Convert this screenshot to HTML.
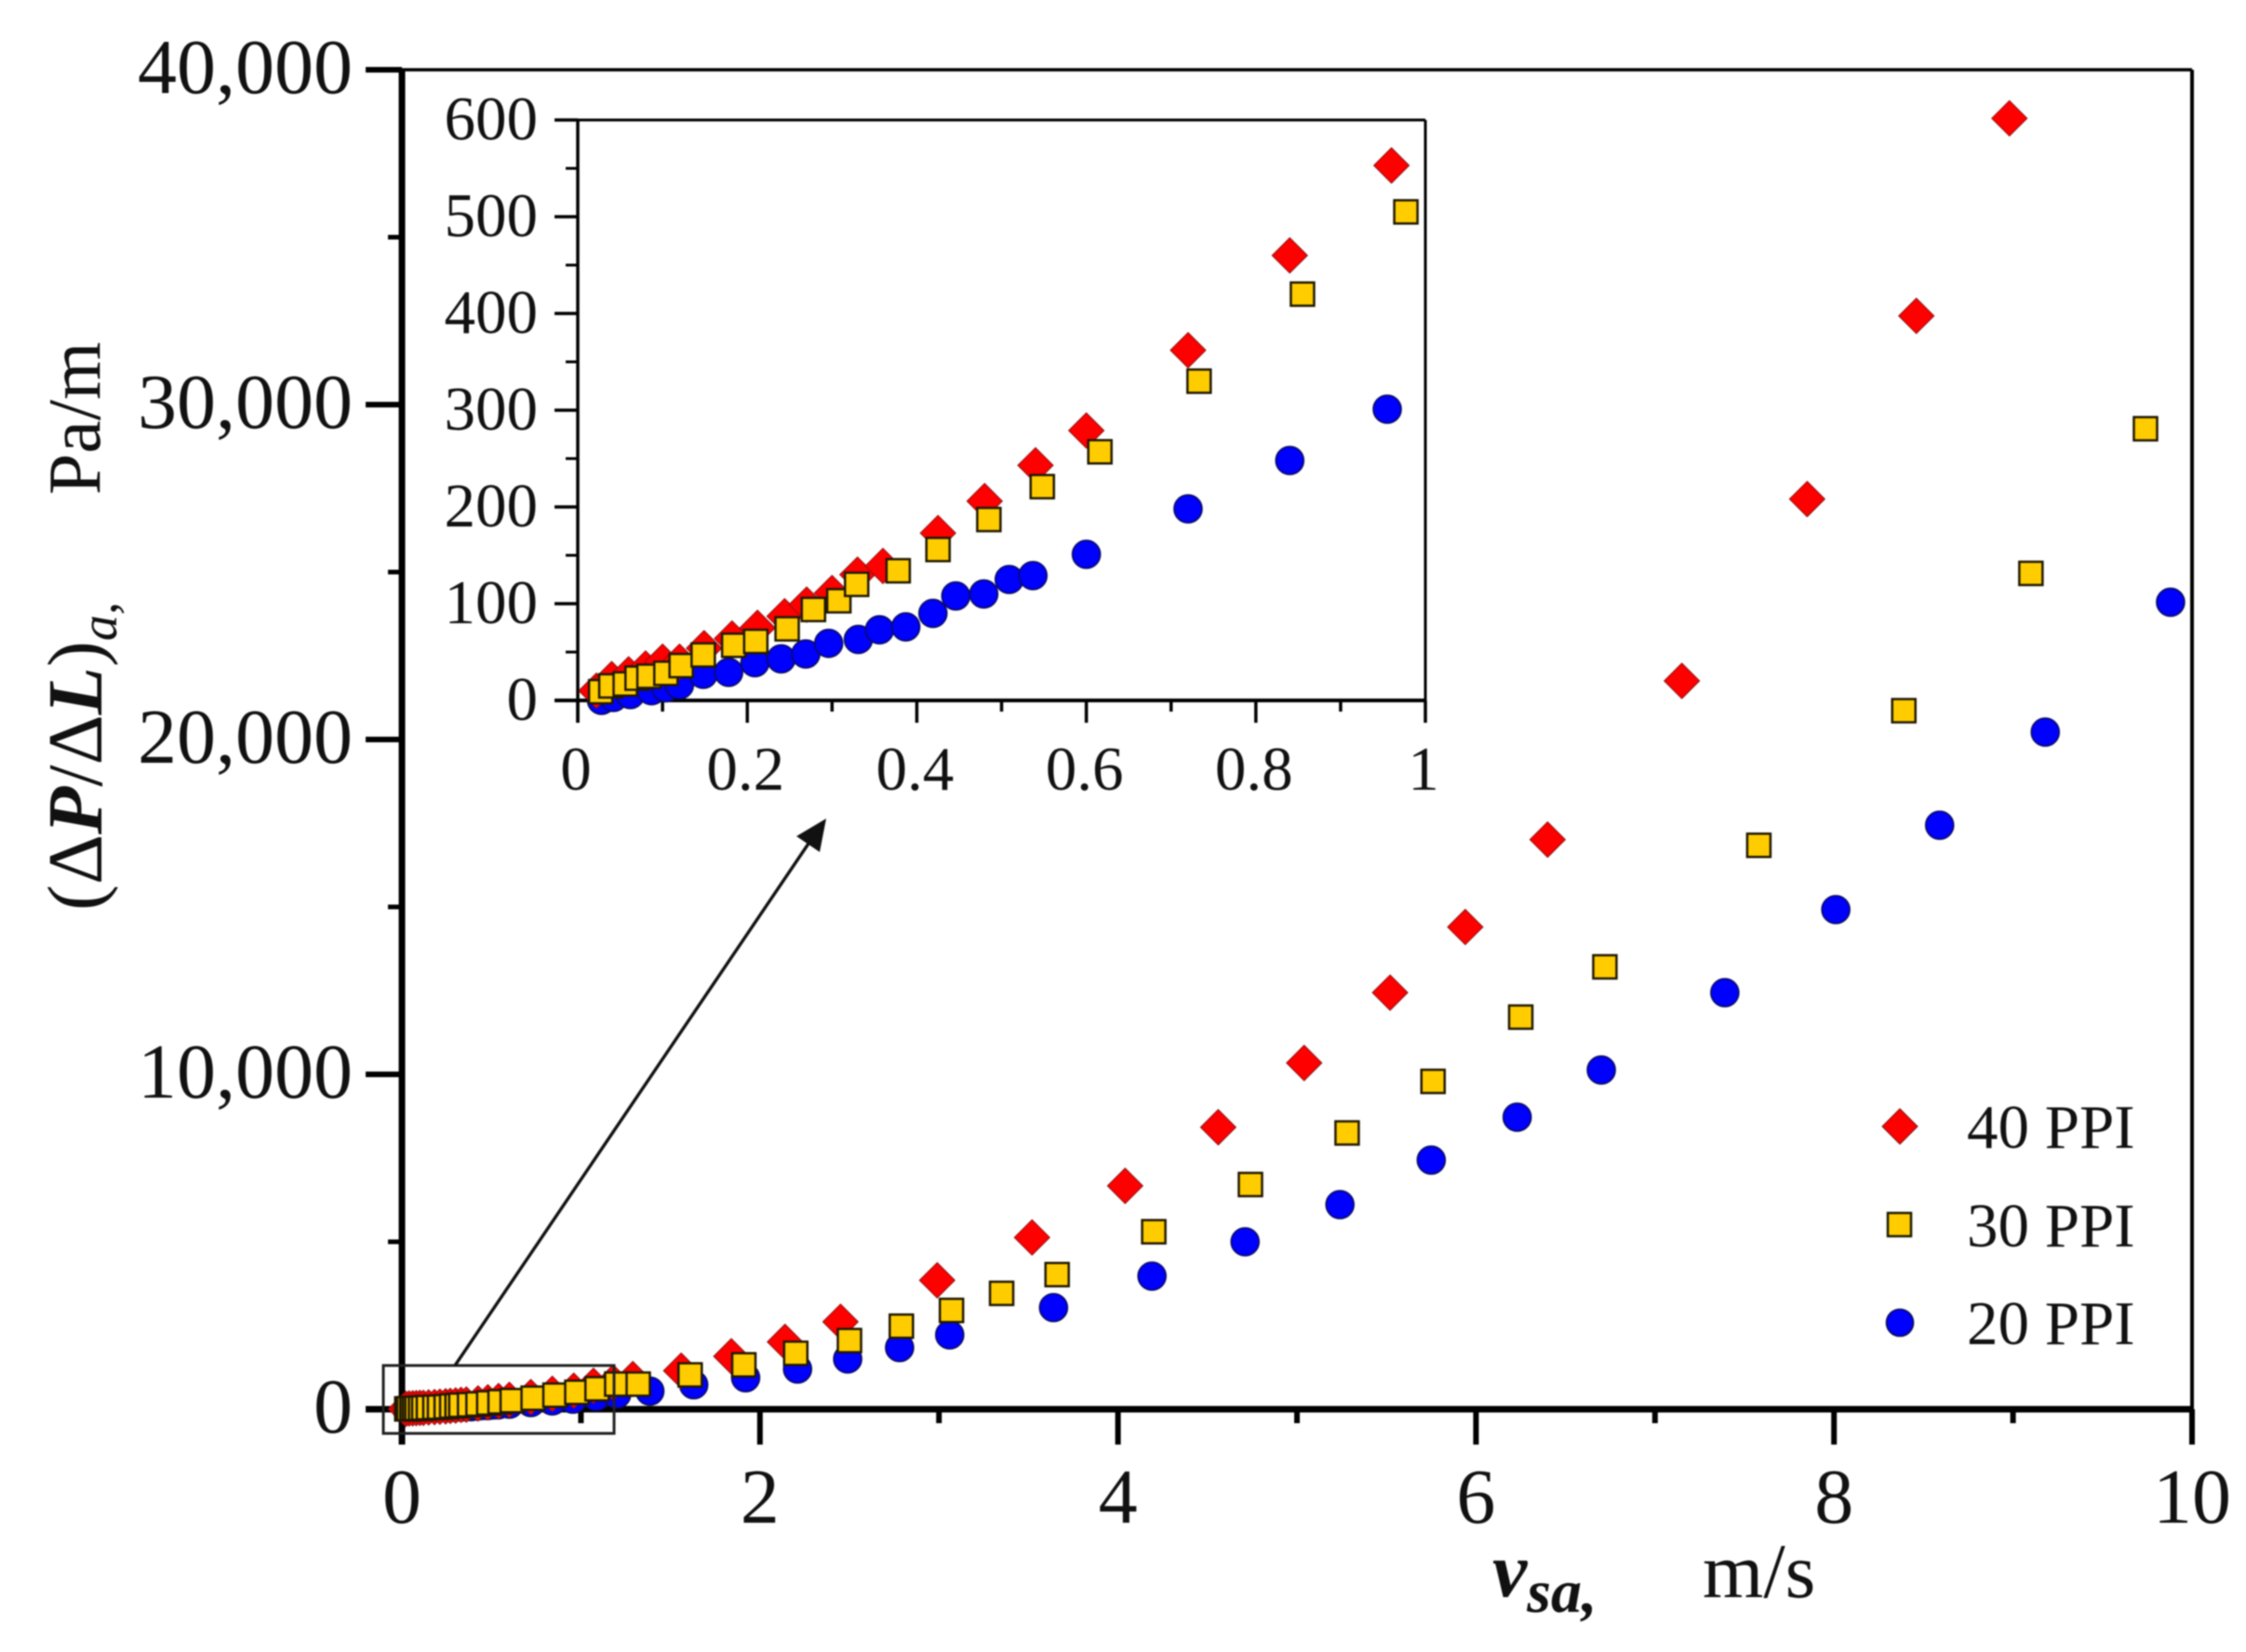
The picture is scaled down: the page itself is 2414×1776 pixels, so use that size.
<!DOCTYPE html>
<html lang="en">
<head>
<meta charset="utf-8">
<title>Pressure gradient vs superficial air velocity</title>
<style>
html,body{margin:0;padding:0;background:#fff;width:2414px;height:1776px;overflow:hidden}
svg{display:block;filter:blur(.85px)}
text{font-family:"Liberation Serif","Times New Roman",serif;fill:#111}
</style>
</head>
<body>
<svg id="chart" xmlns="http://www.w3.org/2000/svg" width="2414" height="1776" viewBox="0 0 2414 1776">
  <rect x="0" y="0" width="2414" height="1776" fill="#fff"/>
  <g id="main-axes"></g>
  <g id="main-marks"></g>
  <g id="inset-axes"></g>
  <g id="inset-marks"></g>

  <rect x="412" y="1468" width="248" height="73" fill="none" stroke="#222" stroke-width="3"/>
  <line x1="489" y1="1468" x2="875" y2="898" stroke="#111" stroke-width="3.4"/>
  <polygon points="888,880 881,916 856,899" fill="#111"/>

  <text x="1604" y="1716" font-size="84"><tspan font-weight="bold" font-style="italic">v</tspan><tspan font-weight="bold" font-style="italic" font-size="66" dy="17">sa,</tspan></text>
  <text x="1830" y="1717" font-size="84">m/s</text>
  <text transform="translate(109,979) rotate(-90)" font-size="84">(Δ<tspan font-weight="bold" font-style="italic">P</tspan>/Δ<tspan font-weight="bold" font-style="italic">L</tspan>)<tspan font-style="italic" font-size="56" dy="16">a,</tspan></text>
  <text transform="translate(107,532) rotate(-90)" font-size="80">Pa/m</text>

  <g id="legend">
    <polygon points="2042,1192 2061,1211 2042,1230 2023,1211" fill="#f00" stroke="#7a1010" stroke-width="1"/>
    <text x="2114" y="1234" font-size="67">40 PPI</text>
    <rect x="2029" y="1304" width="25" height="25" fill="#ffcc00" stroke="#1a1a00" stroke-width="2.5"/>
    <text x="2114" y="1340" font-size="67">30 PPI</text>
    <circle cx="2042" cy="1422" r="14.5" fill="#0000ff" stroke="#0a0a50" stroke-width="1.6"/>
    <text x="2114" y="1445" font-size="67">20 PPI</text>
  </g>
</svg>
<script>
// Superficial velocity (m/s) and pressure gradient (Pa/m)
const velocity40 = [0.022,0.04,0.06,0.08,0.10,0.12,0.149,0.182,0.212,0.244,0.27,0.30,0.33,0.36,0.425,0.48,0.54,0.60,0.72,0.84,0.96,1.07,1.18,1.29,1.56,1.84,2.14,2.45,2.99,3.52,4.04,4.56,5.04,5.52,5.94,6.40,7.15,7.85,8.46,8.98];
const gradient40 = [10,22,27,33,40,40,54,64,75,87,99,111,130,139,173,206,243,279,362,460,553,700,800,900,1150,1580,2010,2610,3850,5130,6670,8420,10340,12440,14400,17010,21750,27180,32650,38550];
const velocity30 = [0.027,0.039,0.056,0.07,0.084,0.104,0.122,0.148,0.184,0.21,0.247,0.278,0.308,0.329,0.378,0.425,0.485,0.548,0.616,0.733,0.855,0.977,1.09,1.20,1.32,1.61,1.91,2.20,2.50,2.79,3.07,3.35,3.66,4.20,4.74,5.28,5.76,6.25,6.72,7.58,8.39,9.10,9.74];
const gradient30 = [9,15,17,23,25,28,36,47,57,61,74,94,103,120,134,156,187,221,257,330,420,505,610,750,750,1025,1325,1670,2050,2480,2950,3460,4020,5300,6710,8250,9790,11710,13210,16840,20860,24960,29280];
const velocity20 = [0.028,0.042,0.062,0.087,0.104,0.12,0.148,0.178,0.209,0.24,0.269,0.296,0.331,0.356,0.387,0.419,0.446,0.479,0.509,0.537,0.60,0.72,0.84,0.955,1.085,1.20,1.385,1.63,1.92,2.21,2.49,2.78,3.06,3.64,4.19,4.71,5.24,5.75,6.23,6.70,7.39,8.01,8.59,9.18,9.88];
const gradient20 = [0,3,6,10,13,16,27,29,39,43,48,59,63,73,76,90,108,110,125,129,151,198,248,301,380,450,540,730,940,1200,1500,1840,2220,3035,3975,5000,6110,7440,8720,10130,12440,14920,17440,20220,24100];

const mainXTickValues = [0,2,4,6,8,10];
const mainXTickLabels = ['0','2','4','6','8','10'];
const mainXMinorValues = [1,3,5,7,9];
const mainYTickValues = [0,10000,20000,30000,40000];
const mainYTickLabels = ['0','10,000','20,000','30,000','40,000'];
const mainYMinorValues = [5000,15000,25000,35000];

const insetXTickValues = [0,0.2,0.4,0.6,0.8,1];
const insetXTickLabels = ['0','0.2','0.4','0.6','0.8','1'];
const insetXMinorValues = [0.1,0.3,0.5,0.7,0.9];
const insetYTickValues = [0,100,200,300,400,500,600];
const insetYTickLabels = ['0','100','200','300','400','500','600'];
const insetYMinorValues = [50,150,250,350,450,550];

const SVGNS = 'http://www.w3.org/2000/svg';

// Axis functions
function mainX(v){ return 432 + v * 192.4; }
function mainY(v){ return 1515 - v * 0.036; }
function insetX(v){ return 621 + v * 911; }
function insetY(v){ return 753 - v * 1.04; }

function makeLine(parent, x1, y1, x2, y2, width, name){
  const el = document.createElementNS(SVGNS, 'line');
  el.setAttribute('x1', x1);
  el.setAttribute('y1', y1);
  el.setAttribute('x2', x2);
  el.setAttribute('y2', y2);
  el.setAttribute('stroke', '#000');
  el.setAttribute('stroke-width', width);
  
  
  parent.appendChild(el);
}

function makeLabel(parent, x, y, text, size, anchor, name){
  const el = document.createElementNS(SVGNS, 'text');
  el.setAttribute('x', x);
  el.setAttribute('y', y);
  el.setAttribute('font-size', size);
  el.setAttribute('text-anchor', anchor);
  el.textContent = text;
  
  
  parent.appendChild(el);
}

function drawDiamond(parent, cx, cy, name){
  const el = document.createElementNS(SVGNS, 'polygon');
  const h = 19;
  el.setAttribute('points', (cx)+','+(cy-h)+' '+(cx+h)+','+cy+' '+cx+','+(cy+h)+' '+(cx-h)+','+cy);
  el.setAttribute('fill', '#ff0000');
  el.setAttribute('stroke', '#8a1010');
  el.setAttribute('stroke-width', '1');
  
  
  parent.appendChild(el);
}

function drawSquare(parent, cx, cy, name){
  const el = document.createElementNS(SVGNS, 'rect');
  el.setAttribute('x', cx - 12.5);
  el.setAttribute('y', cy - 12.5);
  el.setAttribute('width', 25);
  el.setAttribute('height', 25);
  el.setAttribute('fill', '#ffcc00');
  el.setAttribute('stroke', '#1f1800');
  el.setAttribute('stroke-width', '2.5');
  
  
  parent.appendChild(el);
}

function drawCircle(parent, cx, cy, name){
  const el = document.createElementNS(SVGNS, 'circle');
  el.setAttribute('cx', cx);
  el.setAttribute('cy', cy);
  el.setAttribute('r', 15);
  el.setAttribute('fill', '#0000ff');
  el.setAttribute('stroke', '#0a0a60');
  el.setAttribute('stroke-width', '1.6');
  
  
  parent.appendChild(el);
}

function drawSeries(parent, xs, ys, fx, fy, maxX, drawer, name){
  for (let i = 0; i < xs.length; i++) {
    if (xs[i] <= maxX) drawer(parent, fx(xs[i]), fy(ys[i]), name);
  }
}

// Main axes
const mainAxes = document.getElementById('main-axes');
mainXMinorValues.forEach(function(v){ makeLine(mainAxes, mainX(v), mainY(0), mainX(v), 1530, 6, 'main-x-minor-tick'); });
mainYMinorValues.forEach(function(v){ makeLine(mainAxes, 417, mainY(v), mainX(0), mainY(v), 5, 'main-y-minor-tick'); });
mainXTickValues.forEach(function(v, i){
  makeLine(mainAxes, mainX(v), mainY(0), mainX(v), 1553, 6, 'main-x-tick');
  makeLabel(mainAxes, mainX(v), 1637, mainXTickLabels[i], 84, 'middle', 'main-x-tick-label');
});
mainYTickValues.forEach(function(v, i){
  makeLine(mainAxes, 393, mainY(v), mainX(0), mainY(v), 6, 'main-y-tick');
  makeLabel(mainAxes, 379, mainY(v) + 25, mainYTickLabels[i], 84, 'end', 'main-y-tick-label');
});
makeLine(mainAxes, mainX(0), mainY(40000), mainX(0), 1553, 7, 'main-y-axis-line');
makeLine(mainAxes, 393, mainY(0), mainX(10), mainY(0), 7, 'main-x-axis-line');
makeLine(mainAxes, mainX(0), mainY(40000), mainX(10), mainY(40000), 3.5, 'main-top-spine');
makeLine(mainAxes, mainX(10), mainY(40000), mainX(10), mainY(0), 4, 'main-right-spine');

// Inset axes
const insetAxes = document.getElementById('inset-axes');
insetXMinorValues.forEach(function(v){ makeLine(insetAxes, insetX(v), insetY(0), insetX(v), 765, 3.5, 'inset-x-minor-tick'); });
insetYMinorValues.forEach(function(v){ makeLine(insetAxes, 608, insetY(v), insetX(0), insetY(v), 3, 'inset-y-minor-tick'); });
insetXTickValues.forEach(function(v, i){
  makeLine(insetAxes, insetX(v), insetY(0), insetX(v), 777, 3.5, 'inset-x-tick');
  makeLabel(insetAxes, insetX(v) - 2, 849, insetXTickLabels[i], 67, 'middle', 'inset-x-tick-label');
});
insetYTickValues.forEach(function(v, i){
  makeLine(insetAxes, 596, insetY(v), insetX(0), insetY(v), 3.5, 'inset-y-tick');
  makeLabel(insetAxes, 578, insetY(v) + 21, insetYTickLabels[i], 67, 'end', 'inset-y-tick-label');
});
makeLine(insetAxes, insetX(0), insetY(600), insetX(0), 777, 3.5, 'inset-y-axis-line');
makeLine(insetAxes, 596, insetY(0), insetX(1), insetY(0), 4, 'inset-x-axis-line');
makeLine(insetAxes, insetX(0), insetY(600), insetX(1), insetY(600), 3, 'inset-top-spine');
makeLine(insetAxes, insetX(1), insetY(600), insetX(1), insetY(0), 3, 'inset-right-spine');

// Markers: circles beneath diamonds beneath squares
const mainMarks = document.getElementById('main-marks');
drawSeries(mainMarks, velocity20, gradient20, mainX, mainY, 10, drawCircle, 'main-point-20-ppi');
drawSeries(mainMarks, velocity40, gradient40, mainX, mainY, 10, drawDiamond, 'main-point-40-ppi');
drawSeries(mainMarks, velocity30, gradient30, mainX, mainY, 10, drawSquare, 'main-point-30-ppi');

const insetMarks = document.getElementById('inset-marks');
drawSeries(insetMarks, velocity20, gradient20, insetX, insetY, 1, drawCircle, 'inset-point-20-ppi');
drawSeries(insetMarks, velocity40, gradient40, insetX, insetY, 1, drawDiamond, 'inset-point-40-ppi');
drawSeries(insetMarks, velocity30, gradient30, insetX, insetY, 1, drawSquare, 'inset-point-30-ppi');
</script>
</body>
</html>
